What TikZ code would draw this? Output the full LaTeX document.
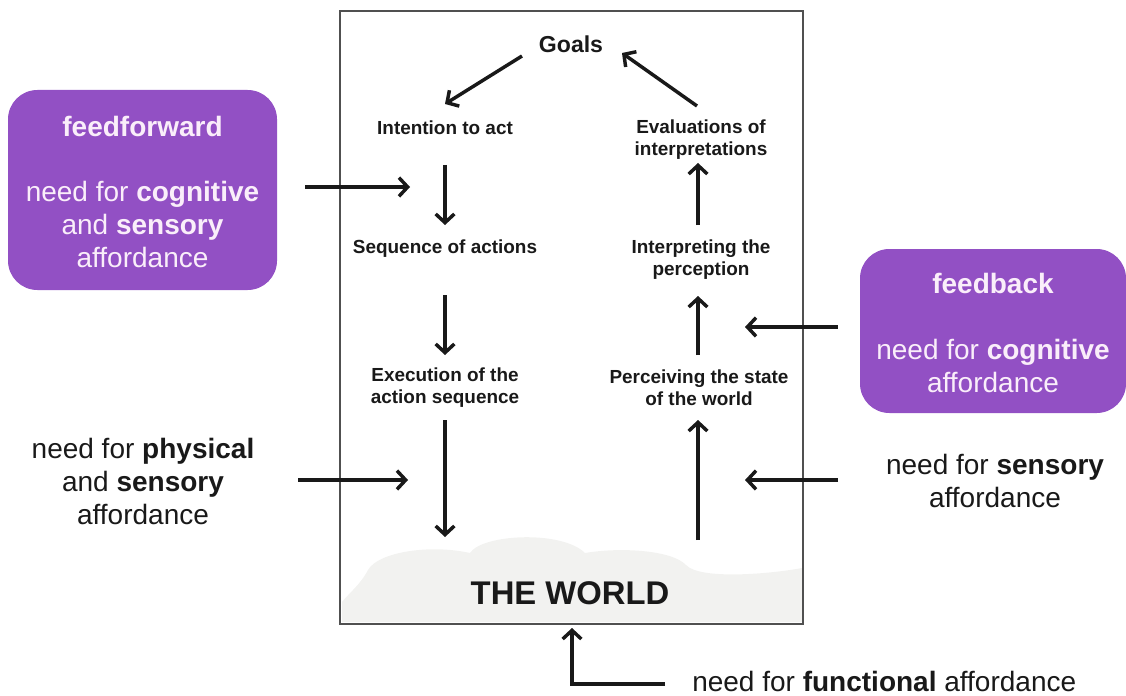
\documentclass[tikz,border=0pt]{standalone}
\usepackage{fontspec}
\setmainfont{Liberation Sans}
\usetikzlibrary{arrows.meta,calc}
\definecolor{purp}{RGB}{146,80,196}
\definecolor{ptext}{RGB}{250,238,250}
\definecolor{ink}{RGB}{25,25,25}
\definecolor{frame}{RGB}{80,80,80}
\definecolor{cloudc}{RGB}{242,242,240}
\tikzset{
  lab/.style={inner sep=0pt, align=center, text=ink, font=\bfseries\fontsize{14.2}{16.5}\selectfont},
  big/.style={inner sep=0pt, align=center, text=ink, font=\fontsize{21}{24.75}\selectfont},
  ptxt/.style={inner sep=0pt, align=center, text=ptext, font=\fontsize{21}{24.75}\selectfont},
  pbox/.style={fill=purp, rounded corners=22pt, inner sep=0pt},
  arr/.style={draw=ink, line width=2.6pt, -{Straight Barb[length=6.5pt,width=14pt,line width=2.6pt]}},
  plain/.style={draw=ink, line width=2.6pt}
}
\begin{document}
\begin{tikzpicture}[x=0.75pt,y=-0.75pt]
\useasboundingbox (0,0) rectangle (1126,695);
% world cloud
\fill[cloudc] (342,622) -- (342,602) .. controls (350,592) and (360,585) .. (368,570)
  .. controls (378,552) and (430,544) .. (470,553)
  .. controls (482,534) and (562,530) .. (585,553)
  .. controls (620,547) and (672,550) .. (686,565)
  .. controls (700,580) and (770,574) .. (802,568) -- (802,622) -- cycle;
% frame
\draw[frame, line width=1.6pt] (340,11) rectangle (803,624);

% inner labels
\node[lab, font=\bfseries\fontsize{17.3}{20}\selectfont] (goals) at (571,44) {Goals};
\node[lab] (int) at (445,128) {Intention to act};
\node[lab] (seq) at (445,249) {Sequence of actions};
\node[lab] (exec) at (445,388) {Execution of the\\action sequence};
\node[lab] (eval) at (701,140) {Evaluations of\\interpretations};
\node[lab] (interp) at (701,260) {Interpreting the\\perception};
\node[lab] (perc) at (699,388) {Perceiving the state\\of the world};
\node[lab, font=\bfseries\fontsize{24.6}{28}\selectfont] (world) at (570,593) {THE WORLD};

% cycle arrows
\draw[arr] ($(goals)+(-49,12)$) -- ($(int)+(0,-24)$);
\draw[arr] ($(eval)+(-4,-34)$) -- ($(goals)+(51,9)$);
\draw[arr] ($(int)+(0,37)$) -- ($(seq)+(0,-24)$);
\draw[arr] ($(seq)+(0,46)$) -- ($(exec)+(0,-33)$);
\draw[arr] ($(exec)+(0,32)$) -- ($(world)+(-125,-56)$);
\draw[arr] ($(world)+(128,-53)$) -- ($(perc)+(-1,32)$);
\draw[arr] ($(perc)+(-1,-33)$) -- ($(interp)+(-3,36)$);
\draw[arr] ($(interp)+(-3,-35)$) -- ($(eval)+(-3,23)$);

% purple boxes
\node[pbox, minimum width=201.75pt, minimum height=150pt] (ff) at (142.5,190) {};
\node[ptxt, font=\bfseries\fontsize{21}{24.75}\selectfont] (fftitle) at (142.5,126) {feedforward};
\node[ptxt] (fftext) at (142.5,224) {need for \textbf{cognitive}\\and \textbf{sensory}\\affordance};

\node[pbox, minimum width=199.5pt, minimum height=123pt] (fb) at (993,331) {};
\node[ptxt, font=\bfseries\fontsize{21}{24.75}\selectfont] (fbtitle) at (993,283) {feedback};
\node[ptxt] (fbtext) at (993,366) {need for \textbf{cognitive}\\affordance};

% plain texts
\node[big] (phys) at (143,481) {need for \textbf{physical}\\and \textbf{sensory}\\affordance};
\node[big] (sens) at (995,481) {need for \textbf{sensory}\\affordance};
\node[big, anchor=west] (func) at (692,681) {need for \textbf{functional} affordance};

% incoming arrows
\coordinate (ffend) at (410,187);
\coordinate (fbend) at (745,327);
\coordinate (physend) at (408,480);
\coordinate (sensend) at (745,480);
\coordinate (funcend) at (572,628);
\coordinate (funcbend) at (572,684);
\draw[arr] ($(ff.east)+(28,-3)$) -- (ffend);
\draw[arr] ($(fb.west)+(-22,-4)$) -- (fbend);
\draw[arr] ($(phys)+(155,-1)$) -- (physend);
\draw[arr] ($(sens)+(-157,-1)$) -- (sensend);
\draw[arr] ($(func.west)+(-27,3)$) -- (funcbend) -- (funcend);
\end{tikzpicture}
\end{document}
